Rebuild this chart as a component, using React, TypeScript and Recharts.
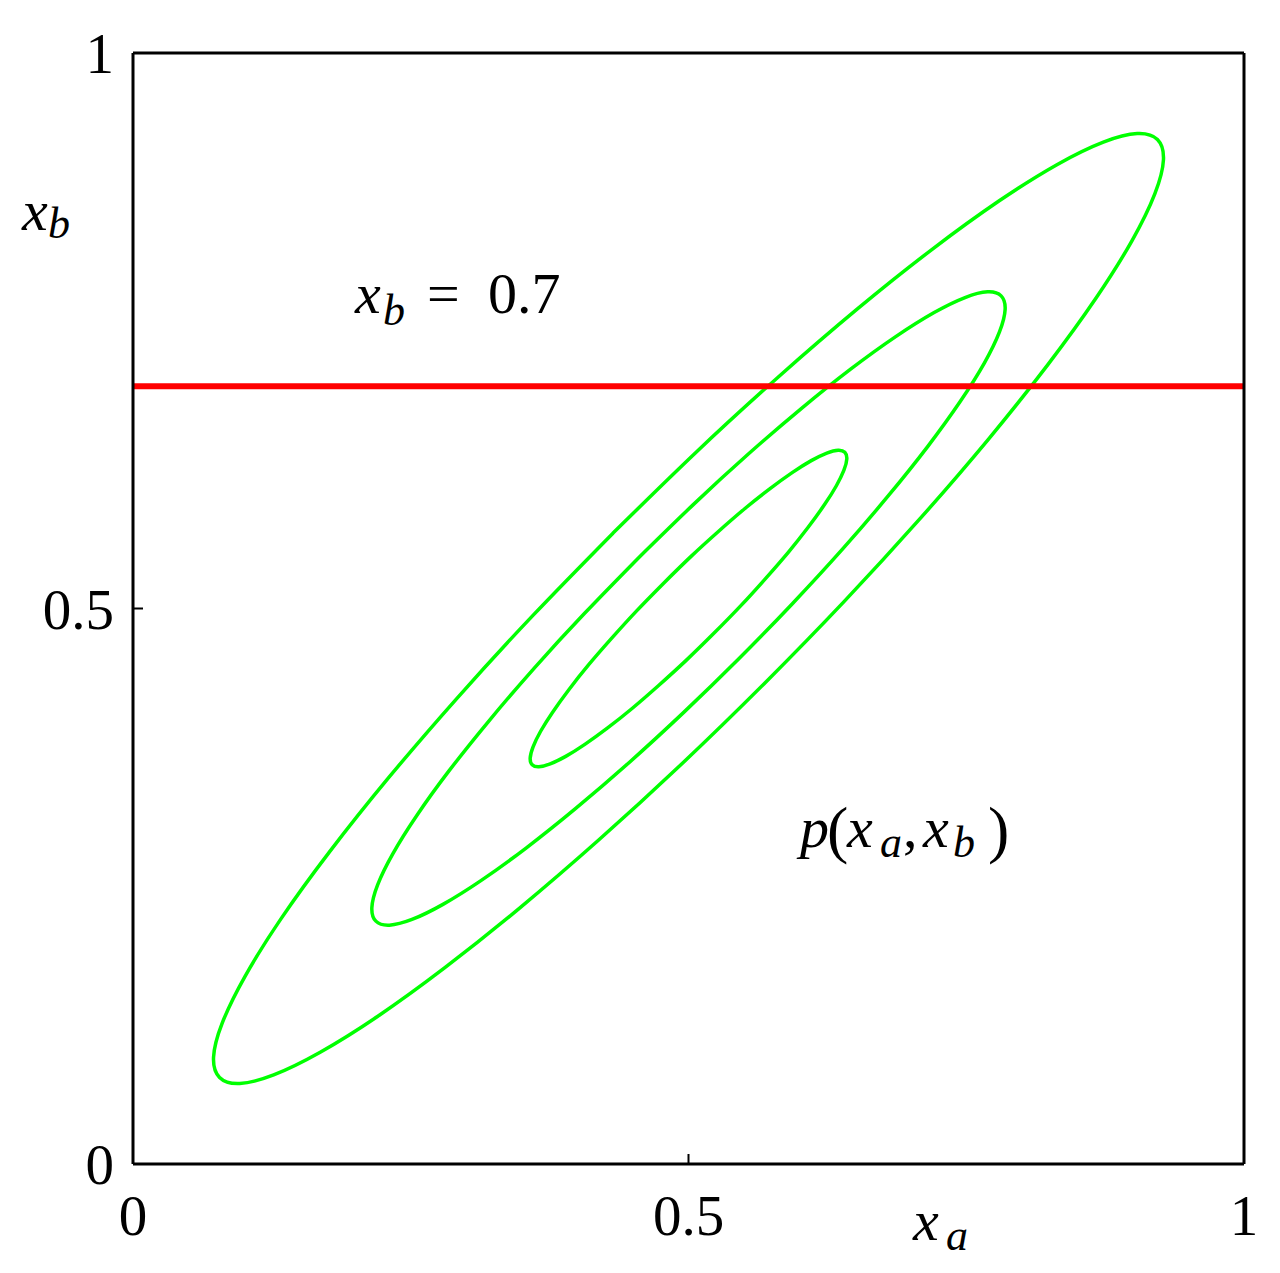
import React from 'react';
import { LineChart, Line, XAxis, YAxis, ReferenceLine } from 'recharts';

// Contour lines of p(x_a, x_b) (x_a, x_b pairs, closed loops)
const outerXa = [0.4321, 0.3598, 0.2918, 0.2301, 0.1767, 0.1330, 0.1006, 0.0802, 0.0725, 0.0779, 0.0961, 0.1266, 0.1685, 0.2204, 0.2807, 0.3477, 0.4194, 0.4936, 0.5679, 0.6402, 0.7082, 0.7699, 0.8233, 0.8670, 0.8995, 0.9198, 0.9275, 0.9221, 0.9039, 0.8734, 0.8316, 0.7797, 0.7193, 0.6523, 0.5806, 0.5064, 0.4321];
const outerXb = [0.5679, 0.4936, 0.4194, 0.3477, 0.2807, 0.2204, 0.1685, 0.1266, 0.0961, 0.0779, 0.0725, 0.0802, 0.1006, 0.1330, 0.1767, 0.2301, 0.2918, 0.3598, 0.4321, 0.5064, 0.5806, 0.6523, 0.7193, 0.7797, 0.8316, 0.8734, 0.9039, 0.9221, 0.9275, 0.9198, 0.8995, 0.8670, 0.8233, 0.7699, 0.7082, 0.6402, 0.5679];

const middleXa = [0.4547, 0.4065, 0.3612, 0.3201, 0.2844, 0.2553, 0.2337, 0.2201, 0.2150, 0.2186, 0.2308, 0.2511, 0.2790, 0.3135, 0.3538, 0.3985, 0.4464, 0.4957, 0.5453, 0.5935, 0.6388, 0.6799, 0.7156, 0.7447, 0.7664, 0.7799, 0.7850, 0.7814, 0.7692, 0.7489, 0.7211, 0.6865, 0.6462, 0.6015, 0.5536, 0.5043, 0.4547];
const middleXb = [0.5453, 0.4957, 0.4464, 0.3985, 0.3538, 0.3135, 0.2790, 0.2511, 0.2308, 0.2186, 0.2150, 0.2201, 0.2337, 0.2553, 0.2844, 0.3201, 0.3612, 0.4065, 0.4547, 0.5043, 0.5536, 0.6015, 0.6462, 0.6865, 0.7211, 0.7489, 0.7692, 0.7814, 0.7850, 0.7799, 0.7664, 0.7447, 0.7156, 0.6799, 0.6388, 0.5935, 0.5453];

const innerXa = [0.4774, 0.4533, 0.4307, 0.4100, 0.3923, 0.3777, 0.3669, 0.3601, 0.3575, 0.3593, 0.3653, 0.3755, 0.3895, 0.4067, 0.4269, 0.4492, 0.4731, 0.4979, 0.5226, 0.5467, 0.5693, 0.5900, 0.6077, 0.6223, 0.6331, 0.6399, 0.6425, 0.6407, 0.6347, 0.6245, 0.6105, 0.5933, 0.5731, 0.5508, 0.5269, 0.5021, 0.4774];
const innerXb = [0.5226, 0.4979, 0.4731, 0.4492, 0.4269, 0.4067, 0.3895, 0.3755, 0.3653, 0.3593, 0.3575, 0.3601, 0.3669, 0.3777, 0.3923, 0.4100, 0.4307, 0.4533, 0.4774, 0.5021, 0.5269, 0.5508, 0.5731, 0.5933, 0.6105, 0.6245, 0.6347, 0.6407, 0.6425, 0.6399, 0.6331, 0.6223, 0.6077, 0.5900, 0.5693, 0.5467, 0.5226];

const conditionValue = 0.7;
const xTicks = [0, 0.5, 1];
const yTicks = [0, 0.5, 1];
const xTickLabels = ['0', '0.5', '1'];
const yTickLabels = ['0', '0.5', '1'];

const toPoints = (xs: number[], ys: number[]) => xs.map((x, i) => ({ x, y: ys[i] }));
const contours = [
  { name: 'outer', data: toPoints(outerXa, outerXb) },
  { name: 'middle', data: toPoints(middleXa, middleXb) },
  { name: 'inner', data: toPoints(innerXa, innerXb) },
];

const FONT = "'Liberation Serif', 'Times New Roman', serif";
const W = 1264;
const H = 1257;

const BottomTick = (props: any) => {
  const { x, y, payload } = props;
  const i = xTicks.indexOf(payload.value);
  return (
    <text x={x} y={y + 40} textAnchor="middle" fontFamily={FONT} fontSize={57} fill="#000">
      {i >= 0 ? xTickLabels[i] : String(payload.value)}
    </text>
  );
};

const LeftTick = (props: any) => {
  const { x, y, payload } = props;
  const i = yTicks.indexOf(payload.value);
  return (
    <text x={x} y={y + 20} textAnchor="end" fontFamily={FONT} fontSize={57} fill="#000">
      {i >= 0 ? yTickLabels[i] : String(payload.value)}
    </text>
  );
};

const axisLineStyle = { stroke: '#000', strokeWidth: 3 };
const tickLineStyle = { stroke: '#000', strokeWidth: 2 };

export default function App() {
  return (
    <div style={{ position: 'relative', width: W, height: H }}>
      <LineChart width={W} height={H} margin={{ top: 44, right: 27, bottom: 41, left: 65 }}>
        <XAxis
          dataKey="x"
          type="number"
          domain={[0, 1]}
          ticks={xTicks}
          height={60}
          axisLine={axisLineStyle}
          tickLine={tickLineStyle}
          tickSize={-10}
          tickMargin={41}
          tick={<BottomTick />}
          interval={0}
          allowDataOverflow
        />
        <XAxis
          xAxisId="top"
          orientation="top"
          type="number"
          domain={[0, 1]}
          ticks={[0.5]}
          height={1}
          axisLine={axisLineStyle}
          tickLine={tickLineStyle}
          tickSize={-10}
          tick={false}
        />
        <YAxis
          type="number"
          domain={[0, 1]}
          ticks={yTicks}
          width={60}
          axisLine={axisLineStyle}
          tickLine={tickLineStyle}
          tickSize={-10}
          tickMargin={29}
          tick={<LeftTick />}
          interval={0}
          allowDataOverflow
        />
        <YAxis
          yAxisId="right"
          orientation="right"
          type="number"
          domain={[0, 1]}
          ticks={[0.5]}
          width={1}
          axisLine={axisLineStyle}
          tickLine={tickLineStyle}
          tickSize={-10}
          tick={false}
        />
        {contours.map((c) => (
          <Line
            key={c.name}
            data={c.data}
            dataKey="y"
            type="natural"
            stroke="#00ff00"
            strokeWidth={3.5}
            dot={false}
            activeDot={false}
            isAnimationActive={false}
          />
        ))}
        <ReferenceLine y={conditionValue} stroke="#ff0000" strokeWidth={6} ifOverflow="extendDomain" />
      </LineChart>
      <svg
        width={W}
        height={H}
        style={{ position: 'absolute', left: 0, top: 0, pointerEvents: 'none' }}
        fontFamily={FONT}
        fill="#000"
      >
        {/* y-axis title x_b */}
        <text x={14} y={222} fontSize={58} fontStyle="italic">x</text>
        <text x={40} y={230} fontSize={44} fontStyle="italic">b</text>
        {/* x-axis title x_a */}
        <text x={905} y={1232} fontSize={58} fontStyle="italic">x</text>
        <text x={938} y={1242} fontSize={44} fontStyle="italic">a</text>
        {/* x_b = 0.7 */}
        <text x={347} y={305} fontSize={58} fontStyle="italic">x</text>
        <text x={375} y={317} fontSize={44} fontStyle="italic">b</text>
        <text x={419} y={305} fontSize={58}>=</text>
        <text x={480} y={305} fontSize={58}>0.7</text>
        {/* p(x_a, x_b) */}
        <text x={792} y={839} fontSize={58} fontStyle="italic">p</text>
        <text x={819} y={843} fontSize={64}>(</text>
        <text x={839} y={839} fontSize={58} fontStyle="italic">x</text>
        <text x={872} y={849} fontSize={44} fontStyle="italic">a</text>
        <text x={895} y={839} fontSize={58}>,</text>
        <text x={915} y={839} fontSize={58} fontStyle="italic">x</text>
        <text x={945} y={849} fontSize={44} fontStyle="italic">b</text>
        <text x={980} y={843} fontSize={64}>)</text>
      </svg>
    </div>
  );
}
